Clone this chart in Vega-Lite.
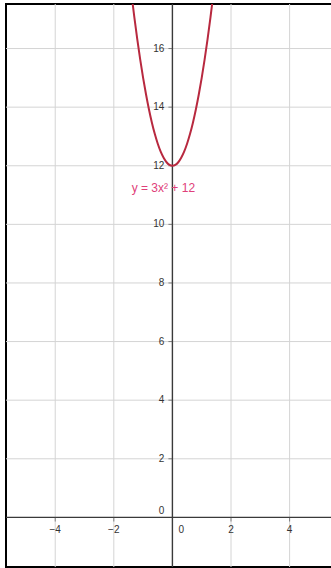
{
  "$schema": "https://vega.github.io/schema/vega-lite/v6.json",
  "width": 326,
  "height": 563,
  "autosize": "none",
  "padding": {"left": 6, "top": 4, "right": 0, "bottom": 1},
  "background": "white",
  "config": {"view": {"stroke": "black", "strokeWidth": 2}},
  "datasets": {
    "gridx": [{"v": -4}, {"v": -2}, {"v": 2}, {"v": 4}],
    "gridy": [{"v": 2}, {"v": 4}, {"v": 6}, {"v": 8}, {"v": 10}, {"v": 12}, {"v": 14}, {"v": 16}],
    "curve": [
      {"x": -1.4, "y": 17.88}, {"x": -1.3, "y": 17.07}, {"x": -1.2, "y": 16.32},
      {"x": -1.1, "y": 15.63}, {"x": -1.0, "y": 15.0}, {"x": -0.9, "y": 14.43},
      {"x": -0.8, "y": 13.92}, {"x": -0.7, "y": 13.47}, {"x": -0.6, "y": 13.08},
      {"x": -0.5, "y": 12.75}, {"x": -0.4, "y": 12.48}, {"x": -0.3, "y": 12.27},
      {"x": -0.2, "y": 12.12}, {"x": -0.1, "y": 12.03}, {"x": 0.0, "y": 12.0},
      {"x": 0.1, "y": 12.03}, {"x": 0.2, "y": 12.12}, {"x": 0.3, "y": 12.27},
      {"x": 0.4, "y": 12.48}, {"x": 0.5, "y": 12.75}, {"x": 0.6, "y": 13.08},
      {"x": 0.7, "y": 13.47}, {"x": 0.8, "y": 13.92}, {"x": 0.9, "y": 14.43},
      {"x": 1.0, "y": 15.0}, {"x": 1.1, "y": 15.63}, {"x": 1.2, "y": 16.32},
      {"x": 1.3, "y": 17.07}, {"x": 1.4, "y": 17.88}
    ]
  },
  "layer": [
    {
      "data": {"name": "gridx"},
      "mark": {"type": "rule", "color": "#d4d4d4", "strokeWidth": 1},
      "encoding": {
        "x": {"field": "v", "type": "quantitative", "scale": {"domain": [-5.68, 5.447], "nice": false, "zero": false}, "axis": null}
      }
    },
    {
      "data": {"name": "gridy"},
      "mark": {"type": "rule", "color": "#d4d4d4", "strokeWidth": 1},
      "encoding": {
        "y": {"field": "v", "type": "quantitative", "scale": {"domain": [-1.693, 17.52], "nice": false, "zero": false}, "axis": null}
      }
    },
    {
      "data": {"values": [{"v": 0}]},
      "mark": {"type": "rule", "color": "#3a3a3a", "strokeWidth": 1.4},
      "encoding": {"x": {"field": "v", "type": "quantitative"}}
    },
    {
      "data": {"values": [{"v": 0}]},
      "mark": {"type": "rule", "color": "#3a3a3a", "strokeWidth": 1.4},
      "encoding": {"y": {"field": "v", "type": "quantitative"}}
    },
    {
      "data": {"name": "gridx"},
      "mark": {"type": "tick", "orient": "vertical", "color": "#555555", "size": 4, "thickness": 1, "yOffset": 2},
      "encoding": {
        "x": {"field": "v", "type": "quantitative"},
        "y": {"datum": 0, "type": "quantitative"}
      }
    },
    {
      "data": {"name": "gridy"},
      "mark": {"type": "tick", "orient": "horizontal", "color": "#555555", "size": 4, "thickness": 1, "xOffset": -2},
      "encoding": {
        "y": {"field": "v", "type": "quantitative"},
        "x": {"datum": 0, "type": "quantitative"}
      }
    },
    {
      "data": {"name": "gridx"},
      "mark": {"type": "text", "font": "Liberation Sans", "fontSize": 10, "color": "#333333", "align": "center", "baseline": "middle", "dy": 13},
      "encoding": {
        "x": {"field": "v", "type": "quantitative"},
        "y": {"datum": 0, "type": "quantitative"},
        "text": {"field": "v", "type": "quantitative"}
      }
    },
    {
      "data": {"name": "gridy"},
      "mark": {"type": "text", "font": "Liberation Sans", "fontSize": 10, "color": "#333333", "align": "right", "baseline": "middle", "dx": -8},
      "encoding": {
        "y": {"field": "v", "type": "quantitative"},
        "x": {"datum": 0, "type": "quantitative"},
        "text": {"field": "v", "type": "quantitative"}
      }
    },
    {
      "data": {"values": [{"v": 0}]},
      "mark": {"type": "text", "font": "Liberation Sans", "fontSize": 10, "color": "#333333", "align": "left", "baseline": "middle", "dx": 6, "dy": 13},
      "encoding": {
        "x": {"field": "v", "type": "quantitative"},
        "y": {"datum": 0, "type": "quantitative"},
        "text": {"field": "v", "type": "quantitative"}
      }
    },
    {
      "data": {"values": [{"v": 0}]},
      "mark": {"type": "text", "font": "Liberation Sans", "fontSize": 10, "color": "#333333", "align": "right", "baseline": "middle", "dx": -8, "dy": -6},
      "encoding": {
        "y": {"field": "v", "type": "quantitative"},
        "x": {"datum": 0, "type": "quantitative"},
        "text": {"field": "v", "type": "quantitative"}
      }
    },
    {
      "data": {"name": "curve"},
      "mark": {"type": "line", "color": "#b8293f", "strokeWidth": 2, "interpolate": "monotone", "clip": true},
      "encoding": {
        "x": {"field": "x", "type": "quantitative"},
        "y": {"field": "y", "type": "quantitative"}
      }
    },
    {
      "data": {"values": [{"label": "y = 3x² + 12", "x": -1.39, "y": 11.24}]},
      "mark": {"type": "text", "font": "Liberation Sans", "fontSize": 12, "color": "#e0407a", "align": "left", "baseline": "middle"},
      "encoding": {
        "x": {"field": "x", "type": "quantitative"},
        "y": {"field": "y", "type": "quantitative"},
        "text": {"field": "label", "type": "nominal"}
      }
    }
  ]
}
